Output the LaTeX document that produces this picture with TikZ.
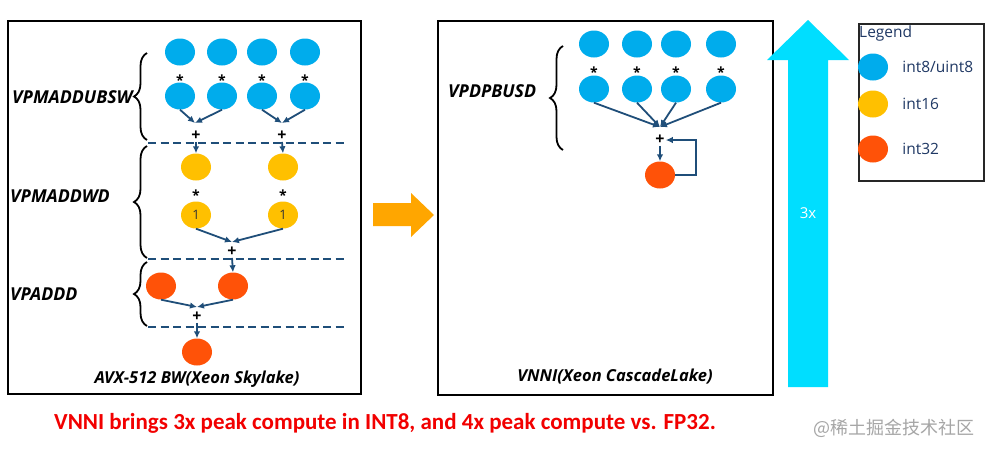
\documentclass[tikz,border=0pt]{standalone}
\usepackage{fontspec}
\setmainfont{Open Sans}
\newfontfamily\notefont{Carlito}
\newfontfamily\cjkfont{Noto Sans CJK SC}
\usepackage{tikz}
\usetikzlibrary{positioning,shapes.geometric,arrows.meta,decorations.pathreplacing}
\definecolor{intblue}{RGB}{0,172,236}
\definecolor{intyellow}{RGB}{255,192,0}
\definecolor{intred}{RGB}{255,82,8}
\definecolor{flownavy}{RGB}{31,78,121}
\definecolor{goorange}{RGB}{255,166,0}
\definecolor{upcyan}{RGB}{0,222,255}
\definecolor{legendblue}{RGB}{31,56,100}

\begin{document}
\begin{tikzpicture}[x=1pt, y=-1pt,
    dot/.style={ellipse, minimum width=30pt, minimum height=27pt, inner sep=0pt},
    bdot/.style={dot, fill=intblue},
    ydot/.style={dot, fill=intyellow, font=\fontsize{13}{13}\selectfont, text=black!80},
    rdot/.style={dot, fill=intred},
    flow/.style={-{Latex[length=7pt,width=6.5pt]}, flownavy, line width=1.8pt},
    cutline/.style={flownavy, line width=1.6pt, dash pattern=on 8pt off 4.5pt},
    bracket/.style={decorate, decoration={brace, amplitude=13pt}, line width=1.8pt},
    opname/.style={font=\bfseries\itshape\fontsize{17.8}{18}\selectfont, anchor=west, inner sep=0pt},
    mul/.style={font=\bfseries\fontsize{14}{14}\selectfont, inner sep=0pt},
    add/.style={font=\bfseries\fontsize{16}{16}\selectfont, inner sep=1pt},
    caption/.style={font=\bfseries\itshape\fontsize{16.5}{17}\selectfont},
    legtext/.style={anchor=west, inner sep=0pt, text=legendblue, font=\fontsize{15.5}{16}\selectfont}]
                  \useasboundingbox (0,0) rectangle (991,453);
                  \fill [white] (0,0) rectangle (991,453);

                  % Boxes
                  \draw [line width=2pt] (8,21) rectangle (361,394);
                  \draw [line width=2pt] (438,21) rectangle (773,395);

                  % Nodes for AVX-512 BW
                  \foreach \x [count=\i] in {180,222,262,305} {
                    \node [bdot] (a\i) at (\x,52) {};
                    \node [mul] (s\i) at (\x,80) {*};
                    \node [bdot] (b\i) at (\x,96) {};
                  }
                  \coordinate (m1) at (195,123);
                  \coordinate (m2) at (282,123);
                  \node [add] (p1) at (196,136) {+};
                  \node [add] (p2) at (282,136) {+};
                  \node [ydot] (y1) at (196,167) {};
                  \node [ydot] (y2) at (283,167) {};
                  \node [mul] (s5) at (196,195) {*};
                  \node [mul] (s6) at (283,195) {*};
                  \node [ydot] (y3) at (196,215) {1};
                  \node [ydot] (y4) at (283,215) {1};
                  \coordinate (m3) at (232,242);
                  \node [add] (p3) at (232,252) {+};
                  \node [rdot] (r1) at (161,286) {};
                  \node [rdot] (r2) at (233,286) {};
                  \coordinate (m4) at (197,307);
                  \node [add] (p4) at (197,317) {+};
                  \node [rdot] (r3) at (197,352) {};
                  \node [caption] (avx) at (197,379) {AVX-512 BW(Xeon Skylake)};

                  % Stages for AVX-512 BW
                  \draw [cutline] (148,143) -- (347,143);
                  \draw [cutline] (148,259) -- (347,259);
                  \draw [cutline] (148,327) -- (347,327);
                  \draw [bracket] (147,140) -- (147,53);
                  \draw [bracket] (147,258) -- (147,146);
                  \draw [bracket] (147,326) -- (147,262);
                  \node [opname] (op1) at (12,97) {VPMADDUBSW};
                  \node [opname] (op2) at (10,196) {VPMADDWD};
                  \node [opname] (op3) at (10,294) {VPADDD};

                  % Arrows for AVX-512 BW
                  \draw [flow] (b1.south) -- (m1);
                  \draw [flow] (b2.south) -- (m1);
                  \draw [flow] (b3.south) -- (m2);
                  \draw [flow] (b4.south) -- (m2);
                  \draw [flow] (p1.south) -- (y1.north);
                  \draw [flow] (p2.south) -- (y2.north);
                  \draw [flow] (y3.south) -- (m3);
                  \draw [flow] (y4.south) -- (m3);
                  \draw [flow] (p3.south) -- (r2.north);
                  \draw [flow] (r1.south) -- (m4);
                  \draw [flow] (r2.south) -- (m4);
                  \draw [flow] (p4.south) -- (r3.north);

                  % Nodes for VNNI
                  \foreach \x [count=\i] in {594,637,676,721} {
                    \node [bdot] (c\i) at (\x,44) {};
                    \node [mul] (t\i) at (\x,72) {*};
                    \node [bdot] (d\i) at (\x,89) {};
                  }
                  \coordinate (m5) at (660,127);
                  \node [add] (p5) at (660,140) {+};
                  \node [rdot] (r4) at (660,175) {};
                  \coordinate (loop) at (696,140);
                  \draw [bracket] (563,150) -- (563,46);
                  \node [opname] (op4) at (448,91) {VPDPBUSD};
                  \node [caption] (vnni) at (615,377) {VNNI(Xeon CascadeLake)};

                  % Arrows for VNNI
                  \foreach \i in {1,...,4}
                    \draw [flow] (d\i.south) -- (m5);
                  \draw [flow] (p5.south) -- (r4.north);
                  \draw [flow] (r4.east) -| (loop) -- (p5.east);

                  % Big arrows
                  \fill [goorange] (373,203) -- (411,203) -- (411,193) -- (434,215)
                    -- (411,237) -- (411,226) -- (373,226) -- cycle;
                  \fill [upcyan] (788,387) -- (788,60) -- (767,60) -- (808,20)
                    -- (849,60) -- (828,60) -- (828,387) -- cycle;
                  \node [text=white, font=\fontsize{15}{15}\selectfont] (gain) at (808,213) {3x};

                  % Legend
                  \draw [line width=1.2pt, black!85] (859,24) rectangle (984,181);
                  \node [legtext] (leg) at (859,33) {Legend};
                  \node [bdot] (k1) at (873,67) {};
                  \node [ydot] (k2) at (873,104) {};
                  \node [rdot] (k3) at (873,149) {};
                  \node [legtext, right=14pt of k1] (kt1) {int8/uint8};
                  \node [legtext, right=14pt of k2] (kt2) {int16};
                  \node [legtext, right=14pt of k3] (kt3) {int32};

                  % Note
                  \node [text=red!95!black, font=\notefont\bfseries\fontsize{23}{23}\selectfont] (note) at (385,423)
                    {VNNI brings 3x peak compute in INT8, and 4x peak compute vs. FP32.};
                  \node [text=black!35, font=\cjkfont\fontsize{18}{18}\selectfont] (mark) at (894,428) {@稀土掘金技术社区};
              \end{tikzpicture}
\end{document}
